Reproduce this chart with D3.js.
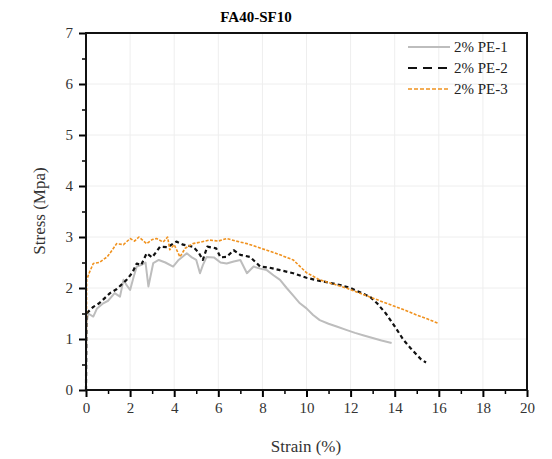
<!DOCTYPE html>
<html>
<head>
<meta charset="utf-8">
<script src="https://cdn.jsdelivr.net/npm/d3@7"></script>
<style>
  body { margin: 0; background: #fff; }
  svg, svg text { font-family: "Liberation Serif", "Times New Roman", serif; }
</style>
</head>
<body>
<div id="chart"></div>
<script>
const xTicks = [0, 2, 4, 6, 8, 10, 12, 14, 16, 18, 20];
const yTicks = [0, 1, 2, 3, 4, 5, 6, 7];
const seriesNames = ["2% PE-1", "2% PE-2", "2% PE-3"];

const strain1 = [0, 0.02, 0.1, 0.33, 0.5, 0.78, 1.0, 1.3, 1.54, 1.7, 1.85, 2.0, 2.15, 2.3, 2.5, 2.7, 2.83, 3.05, 3.3, 3.6, 3.95, 4.2, 4.57, 4.8, 5.0, 5.17, 5.3, 5.47, 5.8, 6.1, 6.38, 6.7, 7.0, 7.3, 7.6, 7.9, 8.2, 8.5, 8.8, 9.1, 9.4, 9.7, 10.0, 10.3, 10.6, 11.0, 11.4, 11.8, 12.2, 12.6, 13.0, 13.4, 13.86];
const stress1 = [0, 1.3, 1.5, 1.44, 1.6, 1.7, 1.75, 1.9, 1.83, 2.16, 2.05, 1.96, 2.2, 2.42, 2.45, 2.5, 2.03, 2.49, 2.55, 2.5, 2.42, 2.55, 2.68, 2.6, 2.55, 2.29, 2.45, 2.61, 2.6, 2.5, 2.48, 2.52, 2.55, 2.29, 2.42, 2.38, 2.35, 2.25, 2.16, 2.0, 1.85, 1.7, 1.6, 1.47, 1.37, 1.3, 1.24, 1.18, 1.12, 1.07, 1.02, 0.97, 0.92];

const strain2 = [0, 0.02, 0.33, 0.6, 1.09, 1.4, 1.84, 2.1, 2.3, 2.5, 2.75, 3.0, 3.36, 3.7, 4.1, 4.4, 4.85, 5.1, 5.3, 5.5, 5.9, 6.1, 6.38, 6.7, 7.0, 7.44, 7.9, 8.3, 8.8, 9.4, 10.0, 10.5, 11.07, 11.6, 12.0, 12.4, 12.9, 13.2, 13.6, 14.0, 14.4, 14.7, 15.0, 15.2, 15.42];
const stress2 = [0, 1.5, 1.63, 1.7, 1.9, 1.98, 2.16, 2.3, 2.48, 2.45, 2.68, 2.6, 2.81, 2.8, 2.91, 2.85, 2.81, 2.7, 2.55, 2.81, 2.78, 2.6, 2.61, 2.74, 2.65, 2.61, 2.42, 2.4, 2.35, 2.29, 2.2, 2.15, 2.1, 2.05, 2.0, 1.92, 1.82, 1.7, 1.5, 1.25, 0.98, 0.83, 0.69, 0.6, 0.54];

const strain3 = [0, 0.03, 0.15, 0.33, 0.6, 0.96, 1.2, 1.39, 1.7, 2.0, 2.2, 2.4, 2.75, 3.0, 3.2, 3.5, 3.7, 3.8, 4.0, 4.26, 4.5, 4.85, 5.2, 5.6, 6.0, 6.38, 6.8, 7.3, 7.8, 8.2, 8.8, 9.4, 10.0, 10.6, 11.2, 11.8, 12.4, 12.9, 13.5, 14.0, 14.5, 15.0, 15.5, 15.96];
const stress3 = [0, 2.16, 2.3, 2.48, 2.5, 2.61, 2.75, 2.87, 2.85, 2.97, 2.92, 3.0, 2.87, 2.95, 2.97, 2.9, 3.0, 2.75, 2.85, 2.61, 2.78, 2.87, 2.9, 2.94, 2.92, 2.97, 2.92, 2.87, 2.8, 2.74, 2.65, 2.55, 2.3, 2.16, 2.08, 2.0, 1.9, 1.82, 1.72, 1.64, 1.56, 1.47, 1.39, 1.31];

const margin = { top: 33, right: 25, bottom: 69, left: 86 };
const totalW = 552, totalH = 459;
const width = totalW - margin.left - margin.right;
const height = totalH - margin.top - margin.bottom;
const serif = '"Liberation Serif", "Times New Roman", serif';

const svgRoot = d3.select("#chart").append("svg").attr("width", totalW).attr("height", totalH);
const svg = svgRoot.append("g").attr("transform", `translate(${margin.left},${margin.top})`);

const x = d3.scaleLinear().domain([0, 20]).range([0, width]);
const y = d3.scaleLinear().domain([0, 7]).range([height, 0]);

// faint grid
svg.append("g").selectAll("line").data(xTicks.slice(1, -1)).join("line")
  .attr("x1", d => x(d)).attr("x2", d => x(d)).attr("y1", 0).attr("y2", height)
  .attr("stroke", "#eeeeee").attr("stroke-width", 1);
svg.append("g").selectAll("line").data(yTicks.slice(1, -1)).join("line")
  .attr("y1", d => y(d)).attr("y2", d => y(d)).attr("x1", 0).attr("x2", width)
  .attr("stroke", "#eeeeee").attr("stroke-width", 1);

// minor ticks
const xMinor = d3.range(1, 20, 2);
const yMinor = d3.range(0.5, 7, 1);
svg.append("g").attr("transform", `translate(0,${height})`)
  .call(d3.axisBottom(x).tickValues(xMinor).tickSize(4).tickFormat(""))
  .call(g => g.select(".domain").remove())
  .selectAll("line").attr("stroke-width", 1.5);
svg.append("g")
  .call(d3.axisLeft(y).tickValues(yMinor).tickSize(4).tickFormat(""))
  .call(g => g.select(".domain").remove())
  .selectAll("line").attr("stroke-width", 1.5);

// major ticks
const xAxisG = svg.append("g").attr("transform", `translate(0,${height})`)
  .call(d3.axisBottom(x).tickValues(xTicks).tickSize(7).tickPadding(5).tickFormat(d3.format("d")))
  .call(g => g.select(".domain").remove())
  .attr("font-family", serif);
xAxisG.selectAll("line").attr("stroke-width", 2);
xAxisG.selectAll("text").style("font-size", "15px").attr("fill", "#333");

const yAxisG = svg.append("g")
  .call(d3.axisLeft(y).tickValues(yTicks).tickSize(7).tickPadding(6).tickFormat(d3.format("d")))
  .call(g => g.select(".domain").remove())
  .attr("font-family", serif);
yAxisG.selectAll("line").attr("stroke-width", 2);
yAxisG.selectAll("text").style("font-size", "15px").attr("fill", "#333");

// series
const series = [
  { name: seriesNames[0], xs: strain1, ys: stress1, color: "#bdbdbd", dash: null, w: 2 },
  { name: seriesNames[1], xs: strain2, ys: stress2, color: "#111111", dash: "4,3", w: 2.2 },
  { name: seriesNames[2], xs: strain3, ys: stress3, color: "#f0921f", dash: "3,1.5", w: 1.6 }
];

const line = d3.line().x(d => x(d[0])).y(d => y(d[1]));

series.forEach(s => {
  svg.append("path")
    .datum(s.xs.map((v, i) => [v, s.ys[i]]))
    .attr("fill", "none")
    .attr("stroke", s.color)
    .attr("stroke-width", s.w)
    .attr("stroke-dasharray", s.dash)
    .attr("stroke-linejoin", "round")
    .attr("d", line);
});

// frame
svg.append("rect").attr("width", width).attr("height", height)
  .attr("fill", "none").attr("stroke", "#111").attr("stroke-width", 2);

// legend
const legend = svg.append("g").attr("transform", `translate(${322},${14})`);
series.forEach((s, i) => {
  const g = legend.append("g").attr("transform", `translate(0,${i * 21})`);
  g.append("line").attr("x1", 0).attr("x2", 42).attr("y1", 0).attr("y2", 0)
    .attr("stroke", s.color).attr("stroke-width", s.w)
    .attr("stroke-dasharray", i === 1 ? "9,6" : (i === 2 ? "4,2" : null));
  g.append("text").attr("x", 46).attr("y", 5).style("font-size", "15px").attr("fill", "#222").text(s.name);
});

// title and axis labels
svgRoot.append("text").attr("x", 256).attr("y", 22).attr("text-anchor", "middle")
  .style("font-size", "15px").style("font-weight", "bold").text("FA40-SF10");

svgRoot.append("text").attr("x", 306).attr("y", 452).attr("text-anchor", "middle")
  .style("font-size", "17px").attr("fill", "#333").text("Strain (%)");

svgRoot.append("text").attr("transform", "rotate(-90)")
  .attr("x", -211).attr("y", 45).attr("text-anchor", "middle")
  .style("font-size", "17px").attr("fill", "#333").text("Stress (Mpa)");
</script>
</body>
</html>
